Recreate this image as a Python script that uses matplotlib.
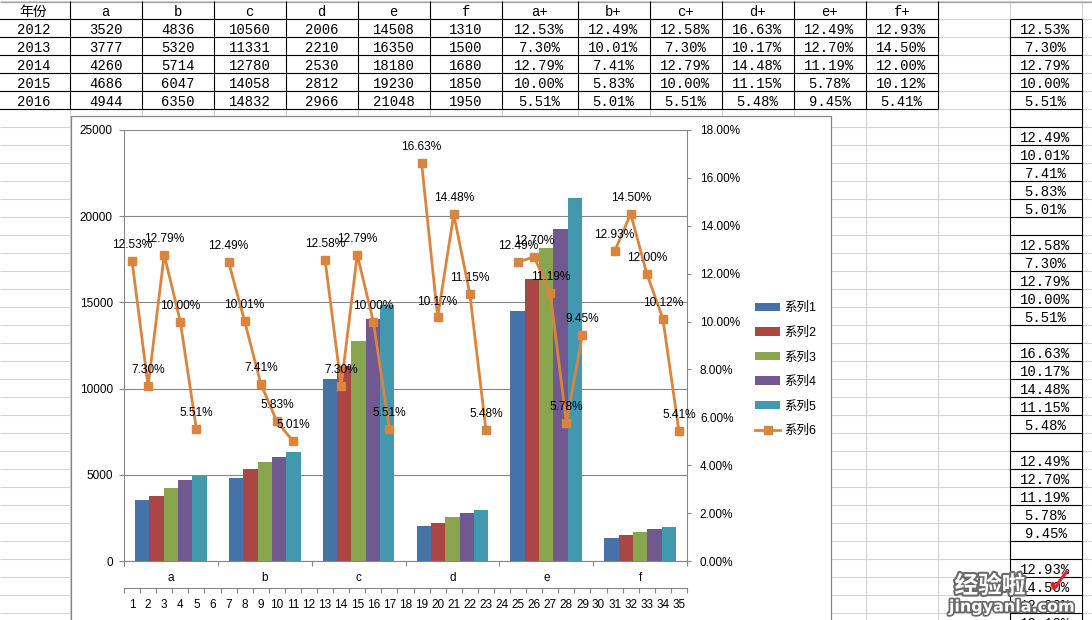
import numpy as np
import matplotlib
matplotlib.use("Agg")
import matplotlib.pyplot as plt
import matplotlib.patheffects as pe
from matplotlib.ticker import FixedLocator, FuncFormatter, NullFormatter

# sheet data
years = [2012, 2013, 2014, 2015, 2016]
cats = ["a", "b", "c", "d", "e", "f"]
a = [3520, 3777, 4260, 4686, 4944]
b = [4836, 5320, 5714, 6047, 6350]
c = [10560, 11331, 12780, 14058, 14832]
d = [2006, 2210, 2530, 2812, 2966]
e = [14508, 16350, 18180, 19230, 21048]
f = [1310, 1500, 1680, 1850, 1950]
a_p = [12.53, 7.30, 12.79, 10.00, 5.51]
b_p = [12.49, 10.01, 7.41, 5.83, 5.01]
c_p = [12.58, 7.30, 12.79, 10.00, 5.51]
d_p = [16.63, 10.17, 14.48, 11.15, 5.48]
e_p = [12.49, 12.70, 11.19, 5.78, 9.45]
f_p = [12.93, 14.50, 12.00, 10.12, 5.41]
header = ["年份", "a", "b", "c", "d", "e", "f", "a+", "b+", "c+", "d+", "e+", "f+"]
series_names = ["系列1", "系列2", "系列3", "系列4", "系列5", "系列6"]

counts = [a, b, c, d, e, f]
rates = [a_p, b_p, c_p, d_p, e_p, f_p]

# line series: 5 values per letter, blank cell between groups
line_vals = []
for i, r in enumerate(rates):
    line_vals += r
    if i < len(rates) - 1:
        line_vals.append(np.nan)

bar_colors = ["#4572a7", "#aa4643", "#89a54e", "#71588f", "#4198af"]
orange = "#db843d"
axis_gray = "#868686"
grid_gray = "#d4d4d4"

chart_font = ["Liberation Sans", "Noto Sans CJK SC"]
cell_font = ["Liberation Mono", "Noto Sans CJK SC"]
plt.rcParams["font.family"] = chart_font

fig = plt.figure(figsize=(10.92, 6.2), dpi=100)

# ---- worksheet background ----
bg = fig.add_axes([0, 0, 1, 1])
bg.set_xlim(0, 1092)
bg.set_ylim(620, 0)
bg.axis("off")

col_edges = [-2.5, 69.5, 141.5, 213.5, 285.5, 357.5, 429.5, 501.5, 577.5,
             649.5, 721.5, 793.5, 865.5, 937.5, 1009.5, 1081.5]
row_edges = [1 + 18 * k for k in range(37)]

for y in row_edges:
    bg.hlines(y, 0, 1092, color=grid_gray, lw=0.8, zorder=1)
for x in col_edges:
    bg.vlines(x, 0, 620, color=grid_gray, lw=0.8, zorder=1)
bg.hlines(1.5, 0, 1092, color="#a0a0a0", lw=0.9, zorder=1)

# table borders
for y in row_edges[1:7]:
    bg.hlines(y, col_edges[0], col_edges[13], color="black", lw=0.8, zorder=2)
for x in col_edges[:14]:
    bg.vlines(x, row_edges[0], row_edges[6], color="black", lw=0.8, zorder=2)

# table text
def cell_center(ci, ri):
    return (col_edges[ci] + col_edges[ci + 1]) / 2, (row_edges[ri] + row_edges[ri + 1]) / 2 + 2

for ci, h in enumerate(header):
    x, y = cell_center(ci, 0)
    bg.text(x, y, h, ha="center", va="center", fontsize=10, family=cell_font, zorder=3)
for ri, yr in enumerate(years):
    x, y = cell_center(0, ri + 1)
    bg.text(x, y, str(yr), ha="center", va="center", fontsize=10, family=cell_font, zorder=3)
    for ci in range(6):
        x, y = cell_center(ci + 1, ri + 1)
        bg.text(x, y, str(counts[ci][ri]), ha="center", va="center",
                fontsize=10, family=cell_font, zorder=3)
    for ci in range(6):
        x, y = cell_center(ci + 7, ri + 1)
        bg.text(x, y, f"{rates[ci][ri]:.2f}%", ha="center", va="center",
                fontsize=10, family=cell_font, zorder=3)

# column O: stacked rates with blank cells
for y in row_edges[1:]:
    bg.hlines(y, col_edges[14], col_edges[15], color="black", lw=0.8, zorder=2)
for x in col_edges[14:16]:
    bg.vlines(x, row_edges[1], 620, color="black", lw=0.8, zorder=2)
for k, v in enumerate(line_vals):
    if np.isnan(v):
        continue
    x, y = cell_center(14, k + 1)
    if y > 625:
        break
    bg.text(x, y, f"{v:.2f}%", ha="center", va="center", fontsize=10,
            family=cell_font, zorder=3)

# chart area
bg.add_patch(plt.Rectangle((70.5, 115.5), 760.5, 520, facecolor="white",
                           edgecolor=axis_gray, lw=0.9, zorder=5))

# watermark
bg.text(990, 586, "经验啦", ha="center", va="center", fontsize=17, weight="bold",
        color="white", family=["Noto Sans CJK SC"], zorder=6,
        path_effects=[pe.withStroke(linewidth=3, foreground="#6a6a6a")])
bg.text(1060, 583, "\u2713", ha="center", va="center", fontsize=26, color="#e8202a",
        family=["DejaVu Sans"], weight="bold", zorder=6)
bg.text(1012, 607, "jingyanla.com", ha="center", va="center", fontsize=11.5, weight="bold",
        color="white", family=["DejaVu Sans"], zorder=6,
        path_effects=[pe.withStroke(linewidth=2.5, foreground="#6a6a6a")])

# ---- chart ----
rect = [124 / 1092, (620 - 561) / 620, (687 - 124) / 1092, (561 - 130) / 620]
ax = fig.add_axes(rect)
ax.patch.set_visible(False)
ax.set_zorder(2)

xc = np.arange(len(cats))
w = 0.1525
handles = []
for s in range(len(years)):
    vals = [cnt[s] for cnt in counts]
    h = ax.bar(xc + (s - 2) * w, vals, w, color=bar_colors[s], zorder=2)
    handles.append(h)

ax.set_xlim(-0.5, len(cats) - 0.5)
ax.set_ylim(0, 25000)
ax.yaxis.set_major_locator(FixedLocator(range(0, 25001, 5000)))
ax.grid(axis="y", color=axis_gray, lw=0.8)
ax.set_axisbelow(True)
for sp in ["top", "right"]:
    ax.spines[sp].set_visible(False)
for sp in ["left", "bottom"]:
    ax.spines[sp].set_color(axis_gray)
    ax.spines[sp].set_linewidth(0.8)
ax.tick_params(axis="y", direction="out", length=3.6, width=0.8, color=axis_gray,
               pad=4.5, labelsize=8.5)
ax.set_xticks(xc)
ax.set_xticklabels(cats)
ax.xaxis.set_minor_locator(FixedLocator(np.arange(-0.5, len(cats), 1.0)))
ax.tick_params(axis="x", which="major", length=0, pad=8.2, labelsize=8.5)
ax.tick_params(axis="x", which="minor", direction="out", length=3.6, width=0.8,
               color=axis_gray)

ax2 = fig.add_axes(rect)
ax2.patch.set_visible(False)
ax2.set_zorder(3)
xs = np.arange(len(line_vals)) + 0.5
ln, = ax2.plot(xs, line_vals, color=orange, lw=2.0, marker="s", ms=5.5, zorder=3)
handles.append(ln)
for x, v in zip(xs, line_vals):
    if not np.isnan(v):
        ax2.annotate(f"{v:.2f}%", (x, v), xytext=(0, 11.5), textcoords="offset points",
                     ha="center", va="center", fontsize=8.6)

ax2.set_xlim(0, len(line_vals))
ax2.set_ylim(0, 18)
ax2.yaxis.tick_right()
ax2.yaxis.set_major_locator(FixedLocator(range(0, 19, 2)))
ax2.yaxis.set_major_formatter(FuncFormatter(lambda v, p: f"{v:.2f}%"))
ax2.tick_params(axis="y", direction="out", length=3.2, width=0.8, color=axis_gray,
                pad=6.1, labelsize=8.5)
ax2.set_xticks(xs)
ax2.set_xticklabels([str(i + 1) for i in range(len(line_vals))])
ax2.xaxis.set_minor_locator(FixedLocator(np.arange(0, len(line_vals) + 1)))
ax2.xaxis.set_minor_formatter(NullFormatter())
ax2.tick_params(axis="x", which="major", length=0, pad=8.0, labelsize=8.5)
ax2.tick_params(axis="x", which="minor", direction="out", length=3.4, width=0.8,
                color=axis_gray)
for sp in ["top", "left"]:
    ax2.spines[sp].set_visible(False)
ax2.spines["right"].set_color(axis_gray)
ax2.spines["right"].set_linewidth(0.8)
ax2.spines["bottom"].set_color(axis_gray)
ax2.spines["bottom"].set_linewidth(0.8)
ax2.spines["bottom"].set_position(("outward", 19.4))

fig.legend(handles, series_names, loc="upper left",
           bbox_to_anchor=(755 / 1092, 1 - 302 / 620), frameon=False,
           fontsize=9, borderpad=0, borderaxespad=0, handlelength=2.0,
           handleheight=0.65, handletextpad=0.35, labelspacing=1.0)

fig.savefig("out.png", dpi=100)
